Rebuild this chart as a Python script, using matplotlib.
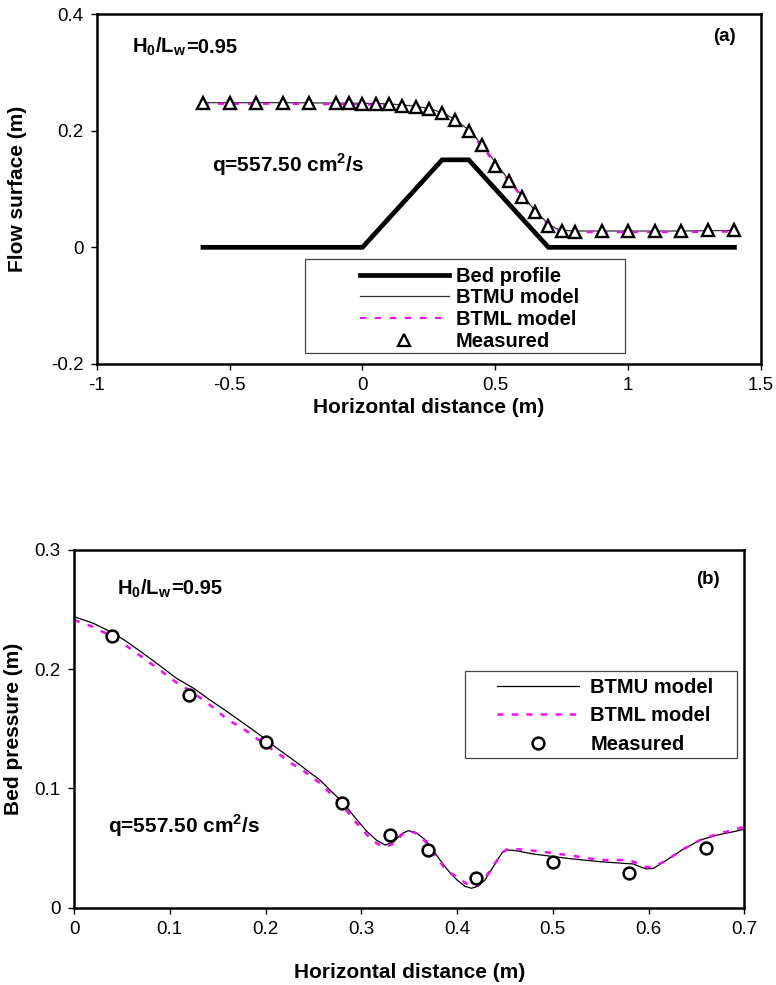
import numpy as np
import matplotlib
matplotlib.use("Agg")
import matplotlib.pyplot as plt
from matplotlib.lines import Line2D
from matplotlib.patches import Rectangle
from matplotlib.ticker import FuncFormatter

plt.rcParams['font.family'] = ['Liberation Sans', 'DejaVu Sans']
plt.rcParams['mathtext.fontset'] = 'custom'
plt.rcParams['mathtext.rm'] = 'Liberation Sans'
plt.rcParams['mathtext.bf'] = 'Liberation Sans:bold'

# ---- (a) flow surface over the weir ----
bed_x = [-0.6, 0.0, 0.3, 0.4, 0.7, 1.4]
bed_y = [0.0, 0.0, 0.15, 0.15, 0.0, 0.0]

surf_x = [-0.6, -0.3, 0.0, 0.1, 0.2, 0.25, 0.3, 0.35, 0.4, 0.45, 0.5, 0.55,
          0.6, 0.65, 0.7, 0.73, 0.76, 0.8, 1.0, 1.2, 1.4]
btmu_surf = [0.248, 0.248, 0.247, 0.246, 0.242, 0.238, 0.231, 0.219, 0.201, 0.176,
             0.146, 0.116, 0.089, 0.063, 0.040, 0.032, 0.029, 0.028, 0.028, 0.028, 0.029]
btml_surf = [0.246, 0.246, 0.245, 0.244, 0.240, 0.236, 0.229, 0.216, 0.198, 0.173,
             0.143, 0.114, 0.087, 0.061, 0.038, 0.030, 0.027, 0.026, 0.026, 0.026, 0.027]

meas_surf_x = [-0.6, -0.5, -0.4, -0.3, -0.2, -0.1, -0.05, 0.0, 0.05, 0.1, 0.15, 0.2,
               0.25, 0.3, 0.35, 0.4, 0.45, 0.5, 0.55, 0.6, 0.65, 0.7, 0.75, 0.8,
               0.9, 1.0, 1.1, 1.2, 1.3, 1.4]
meas_surf_y = [0.247, 0.247, 0.247, 0.247, 0.247, 0.247, 0.247, 0.246, 0.246, 0.245,
               0.242, 0.241, 0.237, 0.231, 0.218, 0.200, 0.176, 0.139, 0.113, 0.087,
               0.061, 0.037, 0.028, 0.027, 0.028, 0.028, 0.028, 0.028, 0.029, 0.030]

# ---- (b) pressure on the bed ----
btmu_px = [0.0, 0.020, 0.040, 0.055, 0.072, 0.090, 0.107, 0.125, 0.142, 0.160,
           0.177, 0.194, 0.212, 0.229, 0.236, 0.246, 0.257, 0.268, 0.280, 0.293,
           0.306, 0.316, 0.325, 0.334, 0.342, 0.349, 0.357, 0.367, 0.376, 0.386,
           0.393, 0.400, 0.408, 0.415, 0.422, 0.429, 0.436, 0.442, 0.447, 0.452,
           0.460, 0.480, 0.515, 0.549, 0.574, 0.584, 0.592, 0.598, 0.605, 0.619,
           0.636, 0.654, 0.672, 0.689, 0.700]
btmu_p = [0.2441, 0.2386, 0.2307, 0.2232, 0.2134, 0.2028, 0.1924, 0.1840, 0.1742,
          0.1644, 0.1547, 0.1449, 0.1337, 0.1239, 0.1197, 0.1135, 0.1070, 0.0980,
          0.0889, 0.0760, 0.0638, 0.0565, 0.0526, 0.0554, 0.0620, 0.0646, 0.0630,
          0.0568, 0.0470, 0.0358, 0.0290, 0.0232, 0.0180, 0.0163, 0.0180, 0.0232,
          0.0320, 0.0400, 0.0460, 0.0484, 0.0480, 0.0450, 0.0414, 0.0386, 0.0372,
          0.0367, 0.0340, 0.0325, 0.0330, 0.0400, 0.0490, 0.0568, 0.0610, 0.0638,
          0.0658]
btml_px = [0.0, 0.020, 0.040, 0.055, 0.072, 0.090, 0.107, 0.125, 0.142, 0.160,
           0.177, 0.194, 0.212, 0.229, 0.236, 0.246, 0.257, 0.268, 0.280, 0.293,
           0.306, 0.316, 0.325, 0.334, 0.342, 0.349, 0.357, 0.367, 0.376, 0.386,
           0.393, 0.400, 0.408, 0.415, 0.422, 0.429, 0.436, 0.442, 0.447, 0.452,
           0.460, 0.480, 0.515, 0.549, 0.574, 0.584, 0.592, 0.598, 0.605, 0.619,
           0.636, 0.654, 0.672, 0.689, 0.700]
btml_p = [0.2413, 0.2355, 0.2272, 0.2195, 0.2097, 0.1991, 0.1888, 0.1800, 0.1700,
          0.1580, 0.1500, 0.1400, 0.1300, 0.1200, 0.1170, 0.1110, 0.1044, 0.0955,
          0.0862, 0.0730, 0.0610, 0.0540, 0.0507, 0.0540, 0.0610, 0.0646, 0.0625,
          0.0554, 0.0450, 0.0344, 0.0290, 0.0260, 0.0210, 0.0182, 0.0190, 0.0247,
          0.0330, 0.0400, 0.0460, 0.0490, 0.0492, 0.0478, 0.0442, 0.0400, 0.0400,
          0.0386, 0.0360, 0.0339, 0.0340, 0.0400, 0.0490, 0.0568, 0.0620, 0.0652,
          0.0680]

meas_p_x = [0.04, 0.12, 0.20, 0.28, 0.33, 0.37, 0.42, 0.50, 0.58, 0.66]
meas_p_y = [0.228, 0.178, 0.139, 0.088, 0.061, 0.048, 0.025, 0.038, 0.029, 0.050]

W, H = 776, 985
fig = plt.figure(figsize=(W / 100, H / 100), dpi=100)

def px_axes(l, t, r, b):
    return fig.add_axes([l / W, 1 - b / H, (r - l) / W, (b - t) / H])

ax1 = px_axes(96.7, 14, 761, 364)
ax2 = px_axes(74, 550, 744.4, 907.7)

fmt = FuncFormatter(lambda v, p: '%g' % round(v, 3))
mag = '#ff00ff'

for ax in (ax1, ax2):
    for s in ax.spines.values():
        s.set_linewidth(1.8)
    ax.tick_params(direction='out', length=4.5, width=1, labelsize=13.5, pad=5)
    ax.xaxis.set_major_formatter(fmt)
    ax.yaxis.set_major_formatter(fmt)

# panel (a)
ax1.plot(bed_x, bed_y, color='black', lw=3.4, solid_joinstyle='miter')
ax1.plot(surf_x, btmu_surf, color='#333333', lw=0.9)
ax1.plot(surf_x, btml_surf, color=mag, lw=1.5, dashes=(2.9, 4.3))
ax1.plot(meas_surf_x, meas_surf_y, linestyle='none', marker='^', ms=8.5,
         mfc='white', mec='black', mew=1.7)
ax1.set_xlim(-1, 1.5)
ax1.set_ylim(-0.2, 0.4)
ax1.set_xticks([-1, -0.5, 0, 0.5, 1, 1.5])
ax1.set_yticks([-0.2, 0, 0.2, 0.4])
ax1.set_xlabel('Horizontal distance (m)', fontsize=15, fontweight='bold')
ax1.set_ylabel('Flow surface (m)', fontsize=15, fontweight='bold')
ax1.xaxis.set_label_coords(0.5, -0.097)
ax1.yaxis.set_label_coords(-0.105, 0.5)
ax1.text(0.053, 0.905, r'$\mathbf{H_0/L_w}$', transform=ax1.transAxes,
         fontsize=14.5, va='center', ha='left')
ax1.text(0.053 + 0.082, 0.905, '=0.95', transform=ax1.transAxes,
         fontsize=14.5, fontweight='bold', va='center', ha='left')
ax1.text(0.173, 0.569, 'q=557.50 cm$^\\mathbf{2}$/s', transform=ax1.transAxes,
         fontsize=15, fontweight='bold', va='center', ha='left')
ax1.text(0.962, 0.935, '(a)', transform=ax1.transAxes, fontsize=13.5,
         fontweight='bold', va='center', ha='right')

h1 = [Line2D([], [], color='black', lw=3.4),
      Line2D([], [], color='#333333', lw=0.9),
      Line2D([], [], color=mag, lw=1.5, dashes=(2.9, 4.3)),
      Line2D([], [], linestyle='none', marker='^', ms=8, mfc='white', mec='black', mew=1.6)]
ax1.add_patch(Rectangle((0.3136, 0.031), 0.4817, 0.269, transform=ax1.transAxes,
                        fill=True, fc='white', ec='#444444', lw=0.9, zorder=4))
leg1 = ax1.legend(h1, ['Bed profile', 'BTMU model', 'BTML model', 'Measured'],
                  loc='upper left', bbox_to_anchor=(0.3964, 0.278), frameon=False,
                  borderpad=0, borderaxespad=0, handlelength=4.4, handletextpad=0.35,
                  labelspacing=0.13, prop={'weight': 'bold', 'size': 14.5})
leg1.set_zorder(5)

# panel (b)
ax2.plot(btmu_px, btmu_p, color='black', lw=0.9)
ax2.plot(btml_px, btml_p, color=mag, lw=1.8, dashes=(2.4, 3.4))
ax2.plot(meas_p_x, meas_p_y, linestyle='none', marker='o', ms=8.5,
         mfc='white', mec='black', mew=1.8)
ax2.set_xlim(0, 0.7)
ax2.set_ylim(0, 0.3)
ax2.set_xticks(np.arange(0, 0.71, 0.1))
ax2.set_yticks([0, 0.1, 0.2, 0.3])
ax2.set_xlabel('Horizontal distance (m)', fontsize=15, fontweight='bold')
ax2.set_ylabel('Bed pressure (m)', fontsize=15, fontweight='bold')
ax2.xaxis.set_label_coords(0.5, -0.155)
ax2.yaxis.set_label_coords(-0.076, 0.5)
ax2.text(0.064, 0.891, r'$\mathbf{H_0/L_w}$', transform=ax2.transAxes,
         fontsize=14.5, va='center', ha='left')
ax2.text(0.064 + 0.081, 0.891, '=0.95', transform=ax2.transAxes,
         fontsize=14.5, fontweight='bold', va='center', ha='left')
ax2.text(0.05, 0.23, 'q=557.50 cm$^\\mathbf{2}$/s', transform=ax2.transAxes,
         fontsize=15, fontweight='bold', va='center', ha='left')
ax2.text(0.963, 0.918, '(b)', transform=ax2.transAxes, fontsize=13.5,
         fontweight='bold', va='center', ha='right')

h2 = [Line2D([], [], color='black', lw=0.9),
      Line2D([], [], color=mag, lw=1.8, dashes=(2.4, 3.4)),
      Line2D([], [], linestyle='none', marker='o', ms=8.5, mfc='white', mec='black', mew=1.8)]
ax2.add_patch(Rectangle((0.583, 0.4177), 0.4055, 0.2449, transform=ax2.transAxes,
                        fill=True, fc='white', ec='#444444', lw=0.9, zorder=4))
leg2 = ax2.legend(h2, ['BTMU model', 'BTML model', 'Measured'],
                  loc='upper left', bbox_to_anchor=(0.6305, 0.643), frameon=False,
                  borderpad=0, borderaxespad=0, handlelength=4.1, handletextpad=0.55,
                  labelspacing=0.48, prop={'weight': 'bold', 'size': 14.5})
leg2.set_zorder(5)

fig.savefig('out.png', dpi=100)
